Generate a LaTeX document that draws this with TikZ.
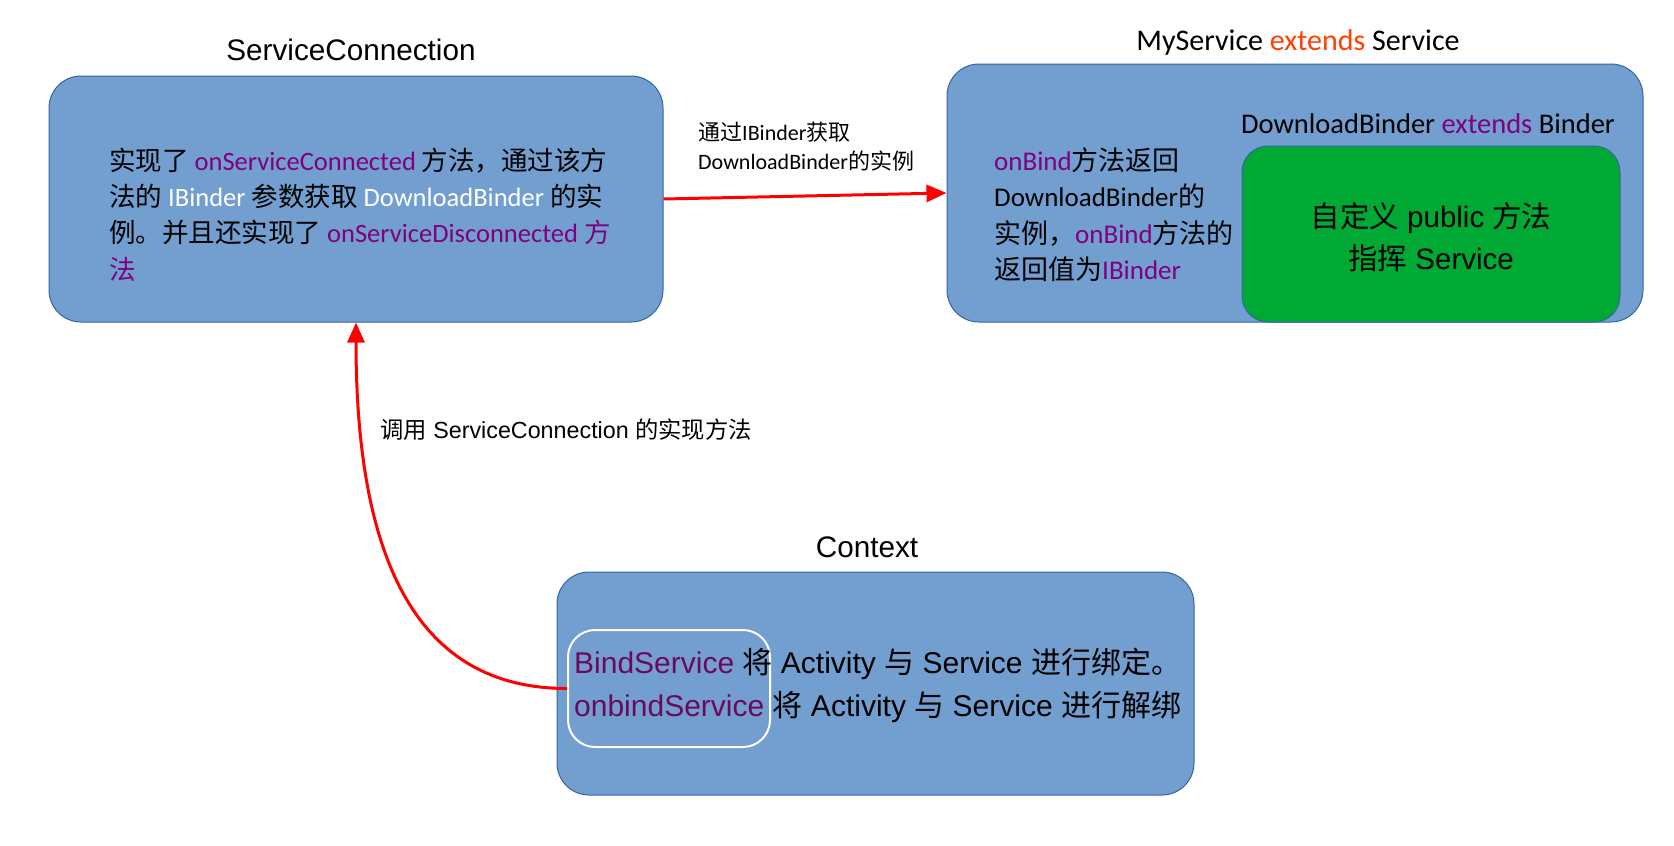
\documentclass[tikz,border=0pt]{standalone}
\usepackage{fontspec}
\setmainfont{Liberation Sans}
\newfontfamily\cjk{Noto Sans CJK SC}
\newfontfamily\calib{Carlito}
\usepackage{xcolor}
\usepackage{tikz}
\usetikzlibrary{arrows.meta,positioning}

\definecolor{panelfill}{HTML}{729FCF}
\definecolor{panelline}{HTML}{3465A4}
\definecolor{binderfill}{HTML}{00A933}
\definecolor{methodc}{HTML}{800080}
\definecolor{extendc}{HTML}{FF4000}
\definecolor{bindc}{HTML}{6B0A5C}
\newcommand{\zh}[1]{{\cjk #1}}

\begin{document}
\begin{tikzpicture}[x=1pt,y=-1pt,
  panel/.style={draw=panelline,fill=panelfill,rounded corners=32pt,line width=1pt,inner sep=0pt},
  heading/.style={inner sep=0pt,font=\fontsize{29.7}{30}\selectfont},
  link/.style={-{Triangle[length=20pt,width=17pt]},line width=3pt,red}]
\useasboundingbox (0,0) rectangle (1674,846);

% ServiceConnection
\node[panel,minimum width=614pt,minimum height=246pt] (conn) at (356,199) {};
\node[heading] (conntitle) at (351,50) {ServiceConnection};
\node[inner sep=0pt,anchor=west,align=left,font=\calib\fontsize{26.5}{36.3}\selectfont] (conntext) at (109,214.6) {
  \zh{实现了} {\color{methodc}onServiceConnected} \zh{方法，通过该方}\\
  \zh{法的} {\color{white}IBinder} \zh{参数获取} {\color{white}DownloadBinder} \zh{的实}\\
  \zh{例。并且还实现了} {\color{methodc}onServiceDisconnected \zh{方}}\\
  {\color{methodc}\zh{法}}
};

% MyService with its binder
\node[panel,minimum width=696pt,minimum height=258pt] (service) at (1295,193) {};
\node[heading,font=\calib\fontsize{30}{30}\selectfont] (servicetitle) at (1298,43) {MyService {\color{extendc}extends} Service};
\node[inner sep=0pt,anchor=west,align=left,font=\calib\fontsize{27}{36.3}\selectfont] (servicetext) at (994,214.6) {
  {\color{methodc}onBind}\zh{方法返回}\\
  DownloadBinder\zh{的}\\
  \zh{实例，}{\color{methodc}onBind}\zh{方法的}\\
  \zh{返回值为}{\color{methodc}IBinder}
};
\node[heading,font=\calib\fontsize{28.5}{30}\selectfont] (bindertitle) at (1428,124) {DownloadBinder {\color{methodc}extends} Binder};
\node[panel,fill=binderfill,rounded corners=26pt,minimum width=378pt,minimum height=176pt] (binder) at (1431,234) {};
\node[inner sep=0pt,align=center,font=\fontsize{29.5}{42}\selectfont] (bindertext) at (1431,237) {
  \zh{自定义} public \zh{方法}\\
  \zh{指挥} Service
};

% Context
\node[panel,minimum width=637pt,minimum height=223pt] (context) at (875.5,683.5) {};
\node[heading] (contexttitle) at (867,547) {Context};
\node[draw=white,line width=2pt,rounded corners=27pt,minimum width=202pt,minimum height=117pt,inner sep=0pt] (bindbox) at (669,688.5) {};
\node[inner sep=0pt,anchor=west,align=left,font=\fontsize{30}{43}\selectfont] (contexttext) at (574,685.5) {
  {\color{bindc}BindService} \zh{将} Activity \zh{与} Service \zh{进行绑定。}\\
  {\color{bindc}onbindService} \zh{将} Activity \zh{与} Service \zh{进行解绑}
};

% Connectors
\draw[link] (conn.east) -- (service.west);
\node[inner sep=0pt,anchor=west,align=left,font=\calib\fontsize{22}{29}\selectfont] (fetchlabel) at (698,146.5) {
  \zh{通过}IBinder\zh{获取}\\
  DownloadBinder\zh{的实例}
};
\draw[link] (bindbox.west) .. controls +(-150,0) and +(0,238) .. (conn.south);
\node[inner sep=0pt,anchor=west,font=\fontsize{23.3}{24}\selectfont] (calllabel) at (380,430) {\zh{调用} ServiceConnection \zh{的实现方法}};

\end{tikzpicture}
\end{document}
